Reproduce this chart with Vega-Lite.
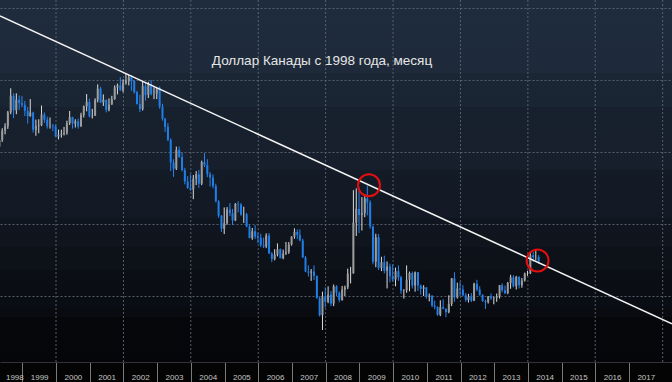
{
"$schema": "https://vega.github.io/schema/vega-lite/v6.json",
"width": 672,
"height": 362,
"autosize": {"type": "none"},
"padding": {"left": 0, "top": 0, "right": 0, "bottom": 20},
"background": "#040405",
"config": {
  "view": {"stroke": null, "fill": {"gradient": "linear", "x1": 0, "y1": 0, "x2": 0, "y2": 1, "stops": [
    {"offset": 0, "color": "#1f2c3d"},
    {"offset": 0.2017, "color": "#1e2a3a"},
    {"offset": 0.2018, "color": "#1b2635"},
    {"offset": 0.2955, "color": "#1a2533"},
    {"offset": 0.2956, "color": "#17202d"},
    {"offset": 0.4695, "color": "#161f2b"},
    {"offset": 0.4696, "color": "#131b26"},
    {"offset": 0.6020, "color": "#121924"},
    {"offset": 0.6021, "color": "#10161f"},
    {"offset": 0.6820, "color": "#0f141d"},
    {"offset": 0.6821, "color": "#0d1119"},
    {"offset": 0.7460, "color": "#0d1118"},
    {"offset": 0.7461, "color": "#0b0e14"},
    {"offset": 0.8480, "color": "#0a0d13"},
    {"offset": 0.8481, "color": "#090b10"},
    {"offset": 0.8760, "color": "#090b10"},
    {"offset": 0.8761, "color": "#06070a"},
    {"offset": 1, "color": "#050609"}
  ]}}
},
"title": {"text": "Доллар Канады с 1998 года, месяц", "orient": "top", "anchor": "middle", "frame": "group", "offset": -79, "baseline": "alphabetic", "dx": -14, "fontSize": 13.5, "font": "Liberation Sans", "fontWeight": "normal", "color": "#e6e6e6"},
"datasets": {
  "candles": [
{"d":"1998-04-28","o":1.4155,"h":1.4405,"l":1.4150,"c":1.4330},
{"d":"1998-05-28","o":1.4330,"h":1.4660,"l":1.4280,"c":1.4595},
{"d":"1998-06-28","o":1.4595,"h":1.4800,"l":1.4490,"c":1.4710},
{"d":"1998-07-28","o":1.4710,"h":1.5140,"l":1.4640,"c":1.5100},
{"d":"1998-08-28","o":1.5100,"h":1.5770,"l":1.5050,"c":1.5560},
{"d":"1998-09-28","o":1.5560,"h":1.5630,"l":1.4940,"c":1.5160},
{"d":"1998-10-28","o":1.5160,"h":1.5630,"l":1.5050,"c":1.5450},
{"d":"1998-11-28","o":1.5450,"h":1.5570,"l":1.5170,"c":1.5360},
{"d":"1998-12-28","o":1.5360,"h":1.5560,"l":1.5240,"c":1.5310},
{"d":"1999-01-28","o":1.5310,"h":1.5420,"l":1.5000,"c":1.5140},
{"d":"1999-02-28","o":1.5140,"h":1.5250,"l":1.4790,"c":1.5000},
{"d":"1999-03-28","o":1.5000,"h":1.5470,"l":1.4980,"c":1.5095},
{"d":"1999-04-28","o":1.5095,"h":1.5120,"l":1.4540,"c":1.4620},
{"d":"1999-05-28","o":1.4620,"h":1.4900,"l":1.4450,"c":1.4720},
{"d":"1999-06-28","o":1.4720,"h":1.4910,"l":1.4520,"c":1.4740},
{"d":"1999-07-28","o":1.4740,"h":1.5290,"l":1.4720,"c":1.5040},
{"d":"1999-08-28","o":1.5040,"h":1.5100,"l":1.4810,"c":1.4900},
{"d":"1999-09-28","o":1.4900,"h":1.4980,"l":1.4650,"c":1.4720},
{"d":"1999-10-28","o":1.4720,"h":1.4960,"l":1.4650,"c":1.4730},
{"d":"1999-11-28","o":1.4730,"h":1.4780,"l":1.4580,"c":1.4710},
{"d":"1999-12-28","o":1.4710,"h":1.4770,"l":1.4430,"c":1.4430},
{"d":"2000-01-28","o":1.4430,"h":1.4620,"l":1.4350,"c":1.4480},
{"d":"2000-02-28","o":1.4480,"h":1.4620,"l":1.4400,"c":1.4500},
{"d":"2000-03-28","o":1.4500,"h":1.4700,"l":1.4460,"c":1.4530},
{"d":"2000-04-28","o":1.4530,"h":1.4870,"l":1.4480,"c":1.4800},
{"d":"2000-05-28","o":1.4800,"h":1.5140,"l":1.4750,"c":1.4970},
{"d":"2000-06-28","o":1.4970,"h":1.4980,"l":1.4650,"c":1.4790},
{"d":"2000-07-28","o":1.4790,"h":1.4910,"l":1.4680,"c":1.4850},
{"d":"2000-08-28","o":1.4850,"h":1.4930,"l":1.4650,"c":1.4710},
{"d":"2000-09-28","o":1.4710,"h":1.5090,"l":1.4700,"c":1.5030},
{"d":"2000-10-28","o":1.5030,"h":1.5290,"l":1.4960,"c":1.5270},
{"d":"2000-11-28","o":1.5270,"h":1.5610,"l":1.5130,"c":1.5390},
{"d":"2000-12-28","o":1.5390,"h":1.5480,"l":1.4960,"c":1.4990},
{"d":"2001-01-28","o":1.4990,"h":1.5200,"l":1.4930,"c":1.5010},
{"d":"2001-02-28","o":1.5010,"h":1.5490,"l":1.5000,"c":1.5450},
{"d":"2001-03-28","o":1.5450,"h":1.5880,"l":1.5380,"c":1.5760},
{"d":"2001-04-28","o":1.5760,"h":1.5810,"l":1.5360,"c":1.5380},
{"d":"2001-05-28","o":1.5380,"h":1.5600,"l":1.5280,"c":1.5450},
{"d":"2001-06-28","o":1.5450,"h":1.5450,"l":1.5100,"c":1.5170},
{"d":"2001-07-28","o":1.5170,"h":1.5490,"l":1.5130,"c":1.5320},
{"d":"2001-08-28","o":1.5320,"h":1.5560,"l":1.5310,"c":1.5470},
{"d":"2001-09-28","o":1.5470,"h":1.5850,"l":1.5450,"c":1.5790},
{"d":"2001-10-28","o":1.5790,"h":1.5900,"l":1.5600,"c":1.5850},
{"d":"2001-11-28","o":1.5850,"h":1.6080,"l":1.5710,"c":1.5710},
{"d":"2001-12-28","o":1.5710,"h":1.6020,"l":1.5660,"c":1.5920},
{"d":"2002-01-28","o":1.5920,"h":1.6190,"l":1.5870,"c":1.5970},
{"d":"2002-02-28","o":1.5970,"h":1.6140,"l":1.5850,"c":1.6070},
{"d":"2002-03-28","o":1.6070,"h":1.6130,"l":1.5700,"c":1.5970},
{"d":"2002-04-28","o":1.5970,"h":1.6000,"l":1.5620,"c":1.5660},
{"d":"2002-05-28","o":1.5660,"h":1.5700,"l":1.5320,"c":1.5330},
{"d":"2002-06-28","o":1.5330,"h":1.5590,"l":1.5110,"c":1.5190},
{"d":"2002-07-28","o":1.5190,"h":1.5960,"l":1.5150,"c":1.5830},
{"d":"2002-08-28","o":1.5830,"h":1.5930,"l":1.5430,"c":1.5580},
{"d":"2002-09-28","o":1.5580,"h":1.5950,"l":1.5500,"c":1.5890},
{"d":"2002-10-28","o":1.5890,"h":1.6000,"l":1.5570,"c":1.5610},
{"d":"2002-11-28","o":1.5610,"h":1.5800,"l":1.5470,"c":1.5620},
{"d":"2002-12-28","o":1.5620,"h":1.5790,"l":1.5470,"c":1.5780},
{"d":"2003-01-28","o":1.5780,"h":1.5820,"l":1.5200,"c":1.5260},
{"d":"2003-02-28","o":1.5260,"h":1.5340,"l":1.4870,"c":1.4920},
{"d":"2003-03-28","o":1.4920,"h":1.4950,"l":1.4560,"c":1.4700},
{"d":"2003-04-28","o":1.4700,"h":1.4800,"l":1.4300,"c":1.4340},
{"d":"2003-05-28","o":1.4340,"h":1.4380,"l":1.3470,"c":1.3710},
{"d":"2003-06-28","o":1.3710,"h":1.3800,"l":1.3310,"c":1.3540},
{"d":"2003-07-28","o":1.3540,"h":1.4150,"l":1.3500,"c":1.4060},
{"d":"2003-08-28","o":1.4060,"h":1.4150,"l":1.3840,"c":1.3860},
{"d":"2003-09-28","o":1.3860,"h":1.3990,"l":1.3460,"c":1.3500},
{"d":"2003-10-28","o":1.3500,"h":1.3560,"l":1.3100,"c":1.3180},
{"d":"2003-11-28","o":1.3180,"h":1.3330,"l":1.2980,"c":1.3000},
{"d":"2003-12-28","o":1.3000,"h":1.3380,"l":1.2920,"c":1.2960},
{"d":"2004-01-28","o":1.2960,"h":1.3360,"l":1.2690,"c":1.3260},
{"d":"2004-02-28","o":1.3260,"h":1.3470,"l":1.3080,"c":1.3380},
{"d":"2004-03-28","o":1.3380,"h":1.3500,"l":1.3000,"c":1.3120},
{"d":"2004-04-28","o":1.3120,"h":1.3760,"l":1.3080,"c":1.3720},
{"d":"2004-05-28","o":1.3720,"h":1.3970,"l":1.3580,"c":1.3640},
{"d":"2004-06-28","o":1.3640,"h":1.3800,"l":1.3300,"c":1.3380},
{"d":"2004-07-28","o":1.3380,"h":1.3450,"l":1.3040,"c":1.3290},
{"d":"2004-08-28","o":1.3290,"h":1.3380,"l":1.2990,"c":1.3050},
{"d":"2004-09-28","o":1.3050,"h":1.3120,"l":1.2600,"c":1.2630},
{"d":"2004-10-28","o":1.2630,"h":1.2660,"l":1.2170,"c":1.2230},
{"d":"2004-11-28","o":1.2230,"h":1.2250,"l":1.1780,"c":1.1870},
{"d":"2004-12-28","o":1.1870,"h":1.2460,"l":1.1720,"c":1.2020},
{"d":"2005-01-28","o":1.2020,"h":1.2470,"l":1.1980,"c":1.2400},
{"d":"2005-02-28","o":1.2400,"h":1.2580,"l":1.2220,"c":1.2300},
{"d":"2005-03-28","o":1.2300,"h":1.2420,"l":1.1970,"c":1.2100},
{"d":"2005-04-28","o":1.2100,"h":1.2580,"l":1.2080,"c":1.2560},
{"d":"2005-05-28","o":1.2560,"h":1.2630,"l":1.2320,"c":1.2540},
{"d":"2005-06-28","o":1.2540,"h":1.2580,"l":1.2230,"c":1.2260},
{"d":"2005-07-28","o":1.2260,"h":1.2480,"l":1.2030,"c":1.2270},
{"d":"2005-08-28","o":1.2270,"h":1.2310,"l":1.1910,"c":1.1930},
{"d":"2005-09-28","o":1.1930,"h":1.1990,"l":1.1600,"c":1.1610},
{"d":"2005-10-28","o":1.1610,"h":1.1890,"l":1.1560,"c":1.1800},
{"d":"2005-11-28","o":1.1800,"h":1.1970,"l":1.1580,"c":1.1650},
{"d":"2005-12-28","o":1.1650,"h":1.1760,"l":1.1470,"c":1.1620},
{"d":"2006-01-28","o":1.1620,"h":1.1730,"l":1.1360,"c":1.1410},
{"d":"2006-02-28","o":1.1410,"h":1.1620,"l":1.1330,"c":1.1380},
{"d":"2006-03-28","o":1.1380,"h":1.1740,"l":1.1330,"c":1.1680},
{"d":"2006-04-28","o":1.1680,"h":1.1750,"l":1.1170,"c":1.1180},
{"d":"2006-05-28","o":1.1180,"h":1.1220,"l":1.0940,"c":1.1030},
{"d":"2006-06-28","o":1.1030,"h":1.1300,"l":1.0990,"c":1.1150},
{"d":"2006-07-28","o":1.1150,"h":1.1460,"l":1.1100,"c":1.1300},
{"d":"2006-08-28","o":1.1300,"h":1.1320,"l":1.1050,"c":1.1050},
{"d":"2006-09-28","o":1.1050,"h":1.1290,"l":1.1020,"c":1.1180},
{"d":"2006-10-28","o":1.1180,"h":1.1500,"l":1.1140,"c":1.1220},
{"d":"2006-11-28","o":1.1220,"h":1.1500,"l":1.1170,"c":1.1430},
{"d":"2006-12-28","o":1.1430,"h":1.1660,"l":1.1400,"c":1.1650},
{"d":"2007-01-28","o":1.1650,"h":1.1880,"l":1.1590,"c":1.1780},
{"d":"2007-02-28","o":1.1780,"h":1.1850,"l":1.1580,"c":1.1700},
{"d":"2007-03-28","o":1.1700,"h":1.1850,"l":1.1520,"c":1.1540},
{"d":"2007-04-28","o":1.1540,"h":1.1590,"l":1.1060,"c":1.1070},
{"d":"2007-05-28","o":1.1070,"h":1.1110,"l":1.0660,"c":1.0680},
{"d":"2007-06-28","o":1.0680,"h":1.0850,"l":1.0540,"c":1.0650},
{"d":"2007-07-28","o":1.0650,"h":1.0750,"l":1.0420,"c":1.0680},
{"d":"2007-08-28","o":1.0680,"h":1.0850,"l":1.0440,"c":1.0560},
{"d":"2007-09-28","o":1.0560,"h":1.0570,"l":0.9930,"c":0.9940},
{"d":"2007-10-28","o":0.9940,"h":0.9990,"l":0.9430,"c":0.9470},
{"d":"2007-11-28","o":0.9470,"h":1.0120,"l":0.9056,"c":0.9990},
{"d":"2007-12-28","o":0.9990,"h":1.0240,"l":0.9680,"c":0.9840},
{"d":"2008-01-28","o":0.9840,"h":1.0270,"l":0.9800,"c":1.0040},
{"d":"2008-02-28","o":1.0040,"h":1.0140,"l":0.9720,"c":0.9790},
{"d":"2008-03-28","o":0.9790,"h":1.0320,"l":0.9720,"c":1.0270},
{"d":"2008-04-28","o":1.0270,"h":1.0300,"l":1.0000,"c":1.0090},
{"d":"2008-05-28","o":1.0090,"h":1.0130,"l":0.9830,"c":0.9890},
{"d":"2008-06-28","o":0.9890,"h":1.0280,"l":0.9870,"c":1.0180},
{"d":"2008-07-28","o":1.0180,"h":1.0290,"l":1.0000,"c":1.0240},
{"d":"2008-08-28","o":1.0240,"h":1.0760,"l":1.0190,"c":1.0620},
{"d":"2008-09-28","o":1.0620,"h":1.0810,"l":1.0350,"c":1.0630},
{"d":"2008-10-28","o":1.0630,"h":1.2940,"l":1.0620,"c":1.2040},
{"d":"2008-11-28","o":1.2040,"h":1.2990,"l":1.1670,"c":1.2420},
{"d":"2008-12-28","o":1.2420,"h":1.3020,"l":1.1750,"c":1.2250},
{"d":"2009-01-28","o":1.2250,"h":1.2750,"l":1.1820,"c":1.2300},
{"d":"2009-02-28","o":1.2300,"h":1.2830,"l":1.2190,"c":1.2710},
{"d":"2009-03-28","o":1.2710,"h":1.3066,"l":1.2240,"c":1.2600},
{"d":"2009-04-28","o":1.2600,"h":1.2660,"l":1.1870,"c":1.1930},
{"d":"2009-05-28","o":1.1930,"h":1.1960,"l":1.0880,"c":1.0950},
{"d":"2009-06-28","o":1.0950,"h":1.1730,"l":1.0800,"c":1.1630},
{"d":"2009-07-28","o":1.1630,"h":1.1720,"l":1.0720,"c":1.0780},
{"d":"2009-08-28","o":1.0780,"h":1.1090,"l":1.0690,"c":1.0940},
{"d":"2009-09-28","o":1.0940,"h":1.1120,"l":1.0630,"c":1.0700},
{"d":"2009-10-28","o":1.0700,"h":1.0960,"l":1.0210,"c":1.0820},
{"d":"2009-11-28","o":1.0820,"h":1.0900,"l":1.0380,"c":1.0550},
{"d":"2009-12-28","o":1.0550,"h":1.0880,"l":1.0400,"c":1.0460},
{"d":"2010-01-28","o":1.0460,"h":1.0790,"l":1.0270,"c":1.0690},
{"d":"2010-02-28","o":1.0690,"h":1.0850,"l":1.0420,"c":1.0520},
{"d":"2010-03-28","o":1.0520,"h":1.0560,"l":1.0060,"c":1.0150},
{"d":"2010-04-28","o":1.0150,"h":1.0190,"l":0.9930,"c":1.0160},
{"d":"2010-05-28","o":1.0160,"h":1.0850,"l":1.0090,"c":1.0450},
{"d":"2010-06-28","o":1.0450,"h":1.0680,"l":1.0130,"c":1.0640},
{"d":"2010-07-28","o":1.0640,"h":1.0680,"l":1.0210,"c":1.0290},
{"d":"2010-08-28","o":1.0290,"h":1.0680,"l":1.0120,"c":1.0660},
{"d":"2010-09-28","o":1.0660,"h":1.0670,"l":1.0140,"c":1.0290},
{"d":"2010-10-28","o":1.0290,"h":1.0320,"l":1.0040,"c":1.0200},
{"d":"2010-11-28","o":1.0200,"h":1.0300,"l":1.0000,"c":1.0240},
{"d":"2010-12-28","o":1.0240,"h":1.0240,"l":0.9930,"c":0.9980},
{"d":"2011-01-28","o":0.9980,"h":1.0070,"l":0.9850,"c":1.0010},
{"d":"2011-02-28","o":1.0010,"h":1.0020,"l":0.9690,"c":0.9730},
{"d":"2011-03-28","o":0.9730,"h":0.9870,"l":0.9630,"c":0.9700},
{"d":"2011-04-28","o":0.9700,"h":0.9710,"l":0.9450,"c":0.9480},
{"d":"2011-05-28","o":0.9480,"h":0.9880,"l":0.9440,"c":0.9690},
{"d":"2011-06-28","o":0.9690,"h":0.9910,"l":0.9630,"c":0.9650},
{"d":"2011-07-28","o":0.9650,"h":0.9650,"l":0.9410,"c":0.9550},
{"d":"2011-08-28","o":0.9550,"h":1.0020,"l":0.9520,"c":0.9780},
{"d":"2011-09-28","o":0.9780,"h":1.0500,"l":0.9720,"c":1.0490},
{"d":"2011-10-28","o":1.0490,"h":1.0660,"l":0.9840,"c":0.9960},
{"d":"2011-11-28","o":0.9960,"h":1.0370,"l":0.9930,"c":1.0210},
{"d":"2011-12-28","o":1.0210,"h":1.0390,"l":1.0000,"c":1.0180},
{"d":"2012-01-28","o":1.0180,"h":1.0300,"l":0.9990,"c":1.0020},
{"d":"2012-02-28","o":1.0020,"h":1.0080,"l":0.9840,"c":0.9890},
{"d":"2012-03-28","o":0.9890,"h":1.0060,"l":0.9820,"c":0.9980},
{"d":"2012-04-28","o":0.9980,"h":1.0080,"l":0.9830,"c":0.9870},
{"d":"2012-05-28","o":0.9870,"h":1.0370,"l":0.9860,"c":1.0340},
{"d":"2012-06-28","o":1.0340,"h":1.0450,"l":1.0130,"c":1.0180},
{"d":"2012-07-28","o":1.0180,"h":1.0270,"l":1.0010,"c":1.0030},
{"d":"2012-08-28","o":1.0030,"h":1.0050,"l":0.9840,"c":0.9860},
{"d":"2012-09-28","o":0.9860,"h":0.9900,"l":0.9640,"c":0.9830},
{"d":"2012-10-28","o":0.9830,"h":1.0000,"l":0.9790,"c":0.9990},
{"d":"2012-11-28","o":0.9990,"h":1.0070,"l":0.9890,"c":0.9940},
{"d":"2012-12-28","o":0.9940,"h":0.9980,"l":0.9770,"c":0.9950},
{"d":"2013-01-28","o":0.9950,"h":1.0070,"l":0.9840,"c":0.9990},
{"d":"2013-02-28","o":0.9990,"h":1.0300,"l":0.9930,"c":1.0300},
{"d":"2013-03-28","o":1.0300,"h":1.0350,"l":1.0100,"c":1.0160},
{"d":"2013-04-28","o":1.0160,"h":1.0290,"l":1.0050,"c":1.0080},
{"d":"2013-05-28","o":1.0080,"h":1.0390,"l":1.0050,"c":1.0360},
{"d":"2013-06-28","o":1.0360,"h":1.0590,"l":1.0200,"c":1.0520},
{"d":"2013-07-28","o":1.0520,"h":1.0580,"l":1.0240,"c":1.0270},
{"d":"2013-08-28","o":1.0270,"h":1.0560,"l":1.0180,"c":1.0530},
{"d":"2013-09-28","o":1.0530,"h":1.0550,"l":1.0210,"c":1.0300},
{"d":"2013-10-28","o":1.0300,"h":1.0500,"l":1.0230,"c":1.0430},
{"d":"2013-11-28","o":1.0430,"h":1.0650,"l":1.0400,"c":1.0620},
{"d":"2013-12-28","o":1.0620,"h":1.0700,"l":1.0560,"c":1.0630},
{"d":"2014-01-28","o":1.0630,"h":1.1225,"l":1.0610,"c":1.1130},
{"d":"2014-02-28","o":1.1130,"h":1.1225,"l":1.0950,"c":1.1080},
{"d":"2014-03-28","o":1.1080,"h":1.1278,"l":1.0990,"c":1.1085},
{"d":"2014-04-28","o":1.1085,"h":1.1135,"l":1.0900,"c":1.0960}
  ],
  "trend": [
    {"d": "1998-05-04", "v": 1.7778},
    {"d": "2018-04-12", "v": 0.9228}
  ],
  "marks": [
    {"d": "2009-04-15", "v": 1.3075},
    {"d": "2014-04-16", "v": 1.0986}
  ],
  "grid": [
    {"d": "2000-01-01"}, {"d": "2002-01-01"}, {"d": "2004-01-01"}, {"d": "2006-01-01"}, {"d": "2008-01-01"},
    {"d": "2010-01-01"}, {"d": "2012-01-01"}, {"d": "2014-01-01"}, {"d": "2016-01-01"}, {"d": "2018-01-01"}
  ]
},
"layer": [
  {
    "data": {"name": "grid"},
    "mark": {"type": "rule", "color": "#5d6773", "strokeDash": [2, 2], "strokeWidth": 1, "opacity": 0.9},
    "encoding": {
      "x": {"field": "d", "type": "temporal",
        "scale": {"domain": [{"year": 1998, "month": 5, "date": 4}, {"year": 2018, "month": 4, "date": 12}], "padding": 0},
        "axis": {
          "title": null, "orient": "bottom",
          "values": [{"year":1998,"month":7,"date":2},{"year":1999,"month":7,"date":2},{"year":2000,"month":7,"date":2},{"year":2001,"month":7,"date":2},{"year":2002,"month":7,"date":2},{"year":2003,"month":7,"date":2},{"year":2004,"month":7,"date":2},{"year":2005,"month":7,"date":2},{"year":2006,"month":7,"date":2},{"year":2007,"month":7,"date":2},{"year":2008,"month":7,"date":2},{"year":2009,"month":7,"date":2},{"year":2010,"month":7,"date":2},{"year":2011,"month":7,"date":2},{"year":2012,"month":7,"date":2},{"year":2013,"month":7,"date":2},{"year":2014,"month":7,"date":2},{"year":2015,"month":7,"date":2},{"year":2016,"month":7,"date":2},{"year":2017,"month":7,"date":2}],
          "tickCount": 100,
          "format": "%Y",
          "tickOffset": -16.8,
          "labelOffset": 16.8,
          "tickSize": 20,
          "tickColor": "#7a7a7a",
          "domainColor": "#333333",
          "labelColor": "#c4c4c4",
          "labelFont": "Liberation Sans",
          "labelFontSize": 8,
          "labelPadding": -9,
          "labelFlush": 8,
          "labelOverlap": false,
          "labelBound": false,
          "grid": false
        }
      }
    }
  },
  {
    "data": {"name": "candles"},
    "mark": {"type": "rule", "strokeWidth": 1, "clip": true},
    "encoding": {
      "x": {"field": "d", "type": "temporal"},
      "y": {"field": "l", "type": "quantitative",
        "scale": {"domain": [0.8167, 1.8222], "nice": false, "zero": false, "padding": 0},
        "axis": {"title": null, "values": [1.0, 1.2, 1.4, 1.6, 1.8], "tickCount": 100, "labels": false, "ticks": false, "domain": false, "grid": true, "gridColor": "#5d6773", "gridDash": [2, 2], "gridOpacity": 0.9}
      },
      "y2": {"field": "h"},
      "color": {"condition": {"test": "datum.c >= datum.o", "value": "#dcdcdc"}, "value": "#2a84ee"}
    }
  },
  {
    "data": {"name": "candles"},
    "mark": {"type": "bar", "size": 2, "clip": true},
    "encoding": {
      "x": {"field": "d", "type": "temporal"},
      "y": {"field": "o", "type": "quantitative"},
      "y2": {"field": "c"},
      "color": {"condition": {"test": "datum.c >= datum.o", "value": "#9c9c9c"}, "value": "#1f7fe8"}
    }
  },
  {
    "data": {"name": "trend"},
    "mark": {"type": "line", "color": "#f4f4f4", "strokeWidth": 1.5, "clip": true},
    "encoding": {
      "x": {"field": "d", "type": "temporal"},
      "y": {"field": "v", "type": "quantitative"}
    }
  },
  {
    "data": {"name": "marks"},
    "mark": {"type": "point", "shape": "circle", "filled": false, "stroke": "#e30f0f", "strokeWidth": 2, "size": 484, "opacity": 1},
    "encoding": {
      "x": {"field": "d", "type": "temporal"},
      "y": {"field": "v", "type": "quantitative"}
    }
  }
]
}
